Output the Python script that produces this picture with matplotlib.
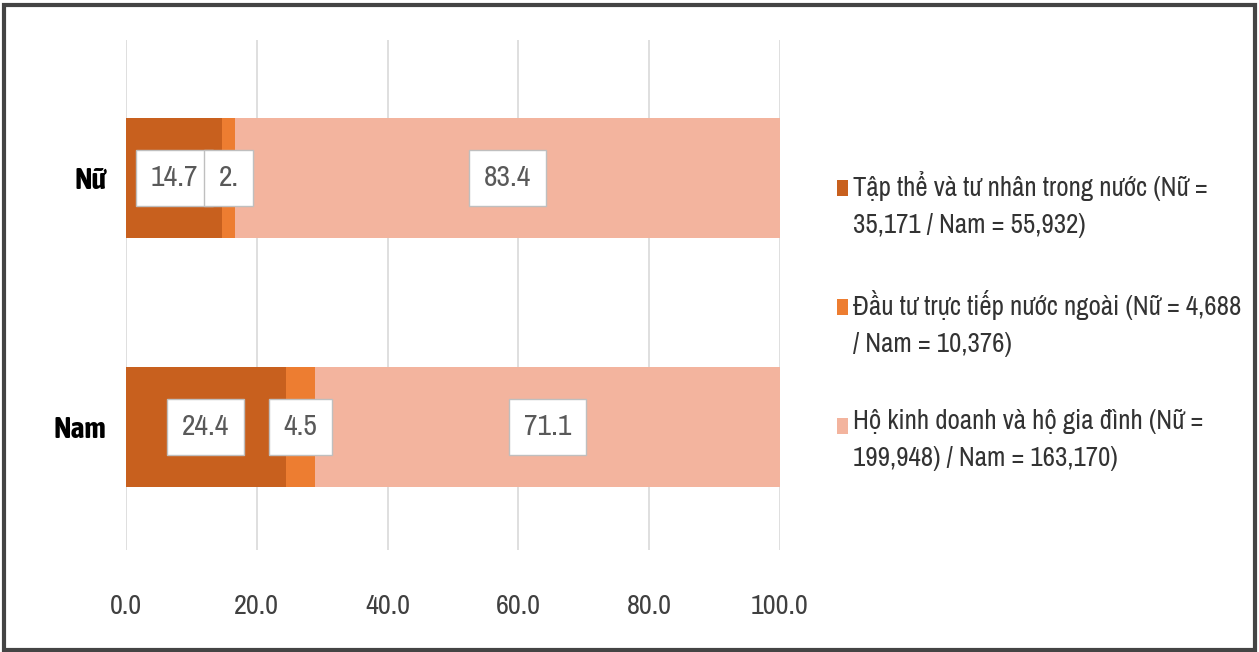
import matplotlib

matplotlib.use("Agg")
import matplotlib.pyplot as plt  # noqa: E402
from matplotlib.font_manager import fontManager, FontProperties  # noqa: E402
from matplotlib.patches import Rectangle  # noqa: E402

# data (percent of workers by sector, per sex)
groups = ["Nam", "Nữ"]
series = [
    "Tập thể và tư nhân trong nước (Nữ =\n35,171 / Nam = 55,932)",
    "Đầu tư trực tiếp nước ngoài (Nữ = 4,688\n/ Nam = 10,376)",
    "Hộ kinh doanh và hộ gia đình (Nữ =\n199,948) / Nam = 163,170)",
]
nam_vals = [24.4, 4.5, 71.1]
nu_vals = [14.7, 1.95, 83.4]
nam_text = ["24.4", "4.5", "71.1"]
nu_text = ["14.7", "2.", "83.4"]
xticks = [0, 20, 40, 60, 80, 100]

colors = ["#C8601E", "#ED7D31", "#F3B49E"]


def pick_font(bold=False):
    # prefer a condensed face (the reference uses a narrow Calibri-like font)
    narrow = [f for f in fontManager.ttflist
              if f.style == "normal"
              and ("Condensed" in f.name or "Narrow" in f.name
                   or "condensed" in str(f.stretch) or str(f.stretch) in ("semi-condensed",))
              and "Extra" not in f.name and "Ultra" not in f.name]
    narrow = [f for f in narrow if (f.weight in (700, "bold")) == bold
              or (not bold and f.weight in (400, "normal", "regular"))]
    if narrow:
        narrow.sort(key=lambda f: ("Semi" in f.name or "semi" in str(f.stretch), f.name))
        return FontProperties(fname=narrow[0].fname)
    return FontProperties(family="Liberation Sans", weight="bold" if bold else "normal")


fp = pick_font()
fpb = pick_font(bold=True)

fig = plt.figure(figsize=(12.59, 6.52), dpi=100)
ax = fig.add_axes([126 / 1259, 102 / 652, 654 / 1259, 510 / 652])
renderer = fig.canvas.get_renderer()


def fit_size(s, target_px, prop):
    t = fig.text(0, 0, s, fontproperties=prop, fontsize=20)
    w = t.get_window_extent(renderer).width
    t.remove()
    return 20 * target_px / w


leg_size = fit_size("Tập thể và tư nhân trong nước (Nữ =", 355, fp)
num_size = min(leg_size * 1.05, 22)

rows = [nam_vals, nu_vals]
texts = [nam_text, nu_text]
ypos = [0, 1]
for k in range(3):
    lefts = [sum(r[:k]) for r in rows]
    widths = [r[k] for r in rows]
    ax.barh(ypos, widths, left=lefts, height=0.48, color=colors[k], zorder=2)
    for y, l, w, t in zip(ypos, lefts, widths, texts):
        ax.text(l + w / 2, y, t[k], ha="center", va="center", fontproperties=fp,
                fontsize=num_size * 1.05, color="#595959", zorder=4,
                bbox=dict(boxstyle="square,pad=0.5", fc="white", ec="#BFBFBF", lw=1))

ax.set_xlim(0, 100)
ax.set_ylim(-0.494, 1.554)
ax.set_xticks(xticks)
ax.set_xticklabels([f"{v:.1f}" for v in xticks], fontproperties=fp, fontsize=num_size,
                   color="#404040")
ax.set_yticks(ypos)
ax.set_yticklabels(groups, fontproperties=fpb, fontsize=num_size * 1.05, color="black")
ax.tick_params(axis="both", length=0)
ax.tick_params(axis="x", pad=32)
ax.tick_params(axis="y", pad=14)
ax.grid(axis="x", color="#D9D9D9", lw=1.2, zorder=0)
for s in ax.spines.values():
    s.set_visible(False)

# legend drawn by hand: square swatch + two-line label
for i, (lab, col) in enumerate(zip(series, colors)):
    ytop = 1 - (171 + i * 119) / 652
    fig.patches.append(Rectangle((837 / 1259, ytop - 25 / 652), 11 / 1259, 16 / 652,
                                 transform=fig.transFigure, fc=col, ec="none"))
    fig.text(853 / 1259, ytop, lab, ha="left", va="top", fontproperties=fp,
             fontsize=leg_size, color="#333333", linespacing=1.6)

# outer frame
fig.patches.append(Rectangle((0.003, 0.003), 0.994, 0.99, transform=fig.transFigure,
                             fill=False, ec="#444444", lw=3))

fig.savefig("out.png", dpi=100)
